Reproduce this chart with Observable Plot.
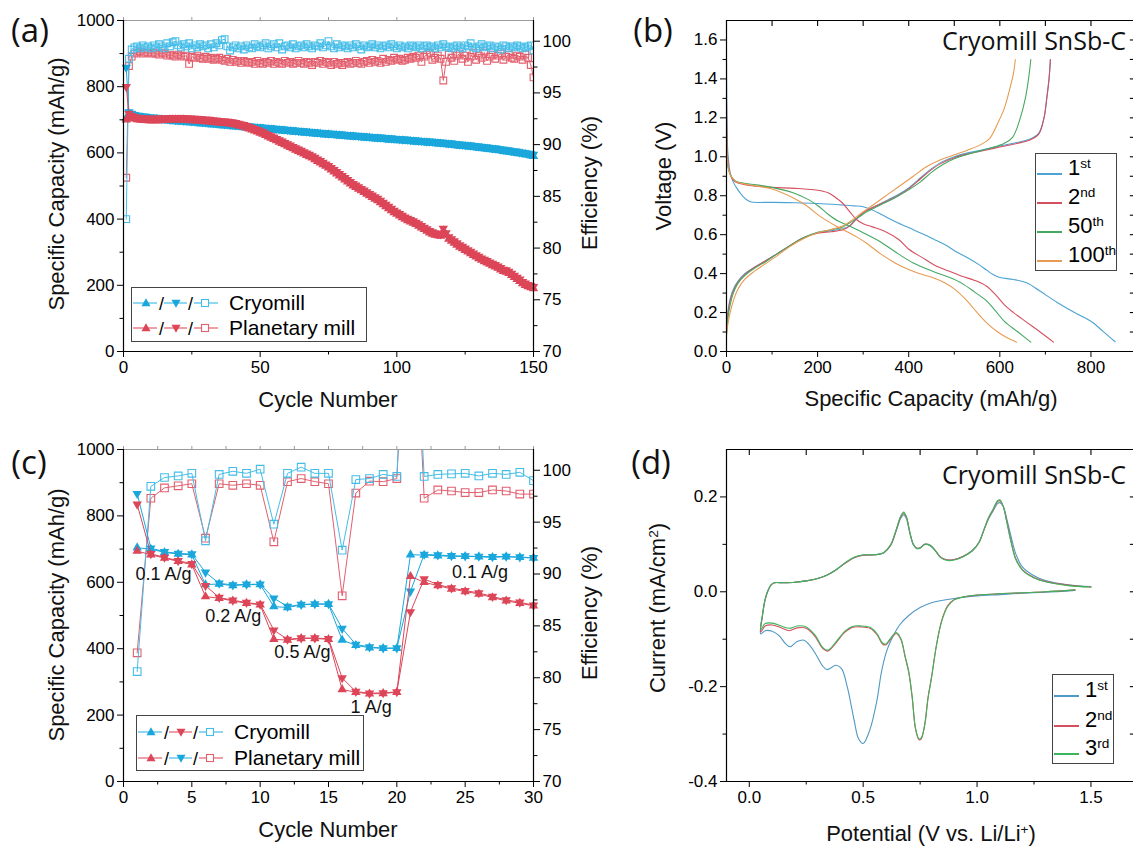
<!DOCTYPE html>
<html><head><meta charset="utf-8">
<script src="https://cdn.jsdelivr.net/npm/d3@7"></script>
<script src="https://cdn.jsdelivr.net/npm/@observablehq/plot@0.6"></script>
<style>
html,body{margin:0;padding:0;background:#fff;}
body{width:1133px;height:848px;overflow:hidden;position:relative;font-family:"Liberation Sans",Arial,sans-serif;}
.panel{position:absolute;}
.panel svg{max-width:none !important;overflow:visible;}
.t{position:absolute;white-space:nowrap;color:#111;line-height:1;}
.lg{position:absolute;border:1.5px solid #444;background:#fff;box-sizing:border-box;}
.lg .row{position:absolute;white-space:nowrap;line-height:1;color:#000;}
sup{font-size:0.62em;vertical-align:0;position:relative;top:-0.55em;}
</style></head><body>
<div id="pa" class="panel" style="left:0;top:0;width:600px;height:400px"></div>
<div id="pb" class="panel" style="left:600px;top:0;width:560px;height:400px"></div>
<div id="pc" class="panel" style="left:0;top:430px;width:600px;height:400px"></div>
<div id="pd" class="panel" style="left:600px;top:430px;width:560px;height:400px"></div>
<script>
// ---------------- DATA ----------------
// (a) long cycling, 150 cycles
const cyclesA = d3.range(1, 151);
const cryoChargeA = [
705,718,713,710,709,707,706,704,704,702,
702,701,700,700,698,698,697,697,695,695,
694,694,693,692,692,691,690,689,689,688,
687,686,686,685,684,683,683,682,681,680,
680,679,678,677,677,676,675,674,674,673,
672,671,671,670,669,668,668,667,666,665,
665,664,663,662,662,661,660,660,659,658,
657,657,656,655,655,654,653,653,652,651,
651,650,649,649,648,647,647,646,645,645,
644,643,643,642,641,641,640,639,639,638,
637,637,636,635,635,634,633,633,632,631,
631,630,629,629,628,627,626,626,625,624,
623,622,621,620,620,619,618,617,616,615,
614,613,612,611,610,609,608,607,605,604,
603,602,600,599,598,597,595,594,592,590];
const cryoDischargeA = [
858,724,719,715,713,712,711,710,708,707,
708,706,705,704,704,703,701,702,700,699,
699,698,698,697,696,696,695,694,693,693,
692,691,690,690,689,688,687,687,686,685,
684,684,683,682,681,681,680,679,678,678,
677,676,675,675,674,673,672,672,671,670,
669,669,668,667,666,666,665,664,664,663,
662,661,661,660,659,659,658,657,657,656,
655,655,654,653,653,652,651,651,650,649,
649,648,647,647,646,645,645,644,643,643,
642,641,641,640,639,639,638,637,637,636,
635,635,634,633,633,632,631,630,630,629,
628,627,626,625,624,624,623,622,621,620,
619,618,617,616,615,614,613,611,610,609,
608,606,605,604,602,601,600,598,597,595];
const cryoEffA = [
82.8,98.3,99.2,99.4,99.5,99.3,99.6,99.4,99.5,99.3,
99.6,99.4,99.7,99.5,99.3,99.8,99.5,99.9,100.0,99.6,
99.4,99.7,99.5,99.8,99.3,99.6,99.4,99.7,99.5,99.6,
99.3,99.7,99.4,99.8,99.6,100.1,100.2,99.5,99.1,99.4,
99.6,99.3,99.5,99.2,99.6,99.4,99.3,99.7,99.5,99.4,
99.6,99.8,99.3,99.5,99.7,99.4,99.8,99.2,99.5,99.6,
99.4,99.7,99.3,99.5,99.6,99.4,99.7,99.5,99.3,99.6,
99.5,99.8,99.4,99.6,100.0,99.5,99.3,99.7,99.4,99.6,
99.5,99.3,99.6,99.4,99.7,99.5,99.2,99.6,99.4,99.5,
99.7,99.4,99.6,99.3,99.5,99.6,99.4,99.7,99.5,99.3,
99.6,99.4,99.5,99.3,99.6,99.5,99.4,99.6,99.3,99.5,
99.6,99.4,99.5,99.3,99.6,99.4,99.7,99.5,99.4,99.3,
99.5,99.6,99.4,99.3,99.6,99.5,99.8,99.4,99.3,99.5,
99.7,99.4,99.5,99.6,99.3,99.5,99.4,99.2,99.6,99.5,
99.3,99.5,99.4,99.6,99.5,99.3,99.4,99.5,99.6,99.1];
const planChargeA = [
700,712,706,703,701,700,699,699,698,698,
698,698,698,699,699,699,700,700,700,700,
700,700,699,699,698,698,697,697,696,695,
695,694,693,692,691,690,690,689,688,687,
685,683,681,679,676,673,670,667,664,660,
657,653,649,645,641,637,633,629,625,621,
617,613,609,605,601,597,593,589,585,580,
575,570,565,560,555,549,543,537,531,525,
519,513,507,501,496,491,486,481,476,471,
466,461,456,450,444,438,432,426,420,415,
410,405,400,396,392,388,384,379,374,369,
364,359,355,352,350,349,365,352,340,334,
328,322,316,311,306,301,296,291,286,281,
276,272,268,264,260,256,252,247,242,240,
236,230,224,218,212,205,200,196,193,190];
const planDischargeA = [
800,718,712,709,707,706,705,705,704,704,
704,704,704,705,705,705,706,706,706,706,
706,706,705,705,704,704,703,703,702,701,
701,700,699,698,697,696,696,695,694,693,
691,689,687,685,682,679,676,673,670,666,
663,659,655,651,647,643,639,635,631,627,
623,619,615,611,607,603,599,595,591,586,
581,576,571,566,561,555,549,543,537,531,
525,519,513,507,502,497,492,487,482,477,
472,467,462,456,450,444,438,432,426,421,
416,411,406,402,398,394,390,385,380,375,
370,365,361,358,356,355,372,358,346,340,
334,328,322,317,312,307,302,297,292,287,
282,278,274,270,266,262,258,253,248,246,
242,236,230,224,218,211,206,202,199,196];
const planEffA = [
86.8,97.6,98.5,98.8,98.9,99.0,98.8,98.9,98.9,98.8,
98.9,98.8,98.7,98.9,98.8,98.6,98.7,98.6,98.5,98.7,
98.6,98.5,98.6,97.8,98.5,98.4,98.6,98.4,98.3,98.5,
98.3,98.4,98.2,98.3,98.4,98.2,98.1,98.3,98.0,98.2,
98.0,98.1,97.9,98.1,98.0,97.9,98.0,97.8,98.1,97.9,
97.8,98.0,97.9,98.1,97.8,98.0,97.9,97.8,98.1,97.9,
98.0,97.8,97.9,98.1,97.9,97.8,98.0,97.9,97.7,98.0,
97.9,98.1,97.8,98.0,97.9,97.7,98.0,97.8,97.9,97.7,
97.9,98.0,97.8,97.9,98.1,97.9,97.8,98.0,98.1,97.9,
98.2,98.0,98.1,97.9,98.3,98.0,98.2,98.1,98.4,98.2,
98.3,98.1,98.2,98.4,98.3,98.5,98.4,98.6,98.0,98.5,
98.7,98.9,98.2,98.4,98.6,98.3,96.2,98.0,98.7,98.4,
98.1,98.6,98.8,98.3,98.6,98.0,98.5,98.9,98.2,98.6,
98.4,98.9,98.1,98.5,98.7,98.3,98.6,98.8,98.2,98.5,
98.7,98.4,98.3,98.6,98.5,98.2,98.7,98.4,97.7,96.5];

// (c) rate capability, 30 cycles
const cyclesC = d3.range(1, 31);
const cryoChargeC = [704,700,690,685,683,593,595,590,593,593,527,524,532,534,534,426,410,403,401,401,683,682,680,678,678,677,675,677,675,673];
const cryoDischargeC = [867,703,692,687,685,630,597,592,594,594,552,527,533,535,535,461,413,405,402,402,573,684,682,680,679,678,677,678,676,674];
const cryoEffC = [80.6,98.45,99.3,99.45,99.7,93.2,99.6,99.9,99.7,100.1,94.8,99.7,100.3,99.7,99.7,92.3,99.1,99.2,99.6,99.4,125,99.4,99.6,99.65,99.7,99.45,99.7,99.6,99.8,99.0];
const planChargeC = [694,683,673,663,653,557,552,544,537,532,428,426,431,431,428,277,269,264,265,269,618,600,590,580,572,565,554,544,537,529];
const planDischargeC = [835,686,675,665,656,590,554,546,539,534,456,428,432,432,430,312,271,266,267,270,511,610,593,583,575,568,557,547,540,531];
const planEffC = [82.4,97.3,98.3,98.5,98.7,93.45,98.7,98.55,98.7,98.55,93.1,98.9,99.2,98.9,98.7,87.9,97.8,98.95,98.9,99.2,125,97.3,98.1,98.0,97.85,97.85,98.1,98.0,97.7,97.7];
const rateLabels = ["0.1 A/g", "0.2 A/g", "0.5 A/g", "1 A/g", "0.1 A/g"];
const rateLabelX = [2.92, 8.03, 13.09, 18.12, 26.08];
const rateLabelY = [625, 497, 388, 224, 630];

// (b) voltage profiles [capacity mAh/g, voltage V]
const dis1 = [[0,1.5],[0.5,1.3],[1,1.18],[3,1.02],[8,0.92],[15,0.87],[25,0.83],[35,0.8],[45,0.778],[55,0.768],[100,0.766],[150,0.764],[200,0.76],[250,0.753],[280,0.748],[300,0.743],[320,0.727],[339,0.705],[370,0.668],[401,0.635],[430,0.605],[455,0.577],[480,0.548],[502,0.515],[532,0.478],[555,0.445],[571,0.418],[585,0.395],[600,0.38],[630,0.37],[660,0.352],[687,0.312],[726,0.252],[764,0.2],[800,0.155],[826,0.105],[853,0.05]];
const chg1 = [[0,0.12],[3,0.2],[8,0.27],[15,0.32],[25,0.36],[40,0.4],[60,0.43],[85,0.465],[110,0.5],[140,0.545],[170,0.585],[200,0.61],[230,0.62],[255,0.63],[270,0.645],[285,0.68],[305,0.72],[330,0.75],[355,0.78],[380,0.81],[400,0.84],[420,0.88],[445,0.93],[470,0.97],[500,1.0],[530,1.02],[560,1.035],[600,1.055],[640,1.075],[665,1.09],[685,1.12],[697,1.2],[703,1.3],[708,1.4],[711,1.5]];
const dis2 = [[0,1.3],[0.5,1.2],[1,1.1],[3,0.98],[8,0.91],[15,0.88],[25,0.865],[50,0.853],[100,0.843],[150,0.838],[200,0.828],[223,0.815],[240,0.79],[254,0.764],[270,0.72],[285,0.678],[300,0.656],[320,0.64],[347,0.618],[378,0.575],[401,0.524],[430,0.482],[455,0.446],[486,0.415],[517,0.386],[545,0.365],[571,0.335],[594,0.283],[610,0.24],[630,0.2],[656,0.155],[687,0.103],[718,0.048]];
const chg2 = [[0,0.1],[3,0.19],[8,0.26],[15,0.31],[25,0.355],[40,0.395],[60,0.43],[85,0.465],[110,0.5],[140,0.545],[170,0.585],[200,0.607],[230,0.615],[255,0.625],[268,0.64],[285,0.68],[305,0.72],[330,0.75],[355,0.775],[380,0.805],[400,0.835],[420,0.875],[445,0.925],[470,0.965],[500,0.995],[530,1.015],[560,1.03],[600,1.05],[640,1.07],[665,1.085],[685,1.115],[697,1.2],[703,1.3],[708,1.4],[711,1.5]];
const dis50 = [[0,1.1],[0.5,1.05],[1,1.0],[3,0.95],[8,0.91],[15,0.885],[25,0.87],[60,0.858],[100,0.843],[146,0.815],[180,0.78],[200,0.75],[223,0.705],[245,0.67],[270,0.645],[300,0.61],[340,0.56],[378,0.5],[410,0.455],[455,0.41],[490,0.38],[517,0.35],[545,0.305],[571,0.26],[590,0.21],[610,0.155],[640,0.1],[668,0.048]];
const chg50 = [[0,0.09],[3,0.17],[8,0.24],[15,0.3],[25,0.35],[40,0.39],[60,0.425],[85,0.46],[110,0.5],[140,0.545],[170,0.585],[200,0.612],[230,0.625],[255,0.64],[270,0.66],[290,0.69],[310,0.72],[340,0.755],[370,0.79],[400,0.83],[425,0.87],[450,0.92],[475,0.96],[500,0.99],[540,1.02],[580,1.045],[610,1.07],[628,1.1],[645,1.2],[656,1.3],[663,1.4],[668,1.5]];
const dis100 = [[0,1.15],[0.5,1.08],[1,1.02],[3,0.96],[8,0.91],[15,0.885],[25,0.868],[60,0.852],[100,0.835],[146,0.79],[175,0.75],[208,0.69],[240,0.645],[285,0.59],[310,0.552],[339,0.5],[370,0.455],[401,0.42],[430,0.395],[455,0.378],[480,0.352],[502,0.318],[525,0.268],[548,0.206],[570,0.15],[594,0.103],[615,0.072],[637,0.048]];
const chg100 = [[0,0.08],[3,0.14],[8,0.2],[15,0.26],[25,0.32],[40,0.37],[60,0.41],[85,0.45],[110,0.49],[140,0.54],[170,0.58],[200,0.61],[230,0.627],[255,0.645],[270,0.665],[290,0.7],[320,0.75],[350,0.8],[380,0.85],[410,0.9],[440,0.95],[470,0.985],[500,1.01],[530,1.035],[560,1.065],[578,1.095],[595,1.17],[610,1.25],[622,1.35],[630,1.43],[634,1.5]];
const profileNames = ["1st", "2nd", "50th", "100th"];

// (d) cyclic voltammetry [potential V, current mA/cm2]
const cv1 = [[1.43,0.003],[1.3,-0.001],[1.2,-0.003],[1.1,-0.006],[1.0,-0.009],[0.9,-0.014],[0.85,-0.018],[0.8,-0.023],[0.75,-0.033],[0.7,-0.05],[0.66,-0.07],[0.62,-0.105],[0.6,-0.13],[0.58,-0.17],[0.56,-0.23],[0.53,-0.29],[0.5,-0.32],[0.48,-0.31],[0.46,-0.27],[0.43,-0.2],[0.405,-0.162],[0.38,-0.155],[0.36,-0.16],[0.34,-0.164],[0.32,-0.155],[0.29,-0.13],[0.26,-0.11],[0.24,-0.102],[0.21,-0.105],[0.18,-0.116],[0.16,-0.11],[0.13,-0.092],[0.1,-0.083],[0.07,-0.082],[0.05,-0.089],
[0.058,-0.05],[0.068,-0.02],[0.08,0.0],[0.095,0.014],[0.11,0.019],[0.15,0.019],[0.2,0.02],[0.25,0.023],[0.3,0.028],[0.34,0.035],[0.38,0.046],[0.42,0.06],[0.46,0.072],[0.5,0.077],[0.55,0.078],[0.59,0.082],[0.62,0.097],[0.645,0.128],[0.665,0.155],[0.678,0.162],[0.69,0.154],[0.705,0.123],[0.72,0.1],[0.735,0.092],[0.75,0.093],[0.77,0.1],[0.785,0.099],[0.8,0.095],[0.82,0.085],[0.84,0.073],[0.87,0.067],[0.9,0.068],[0.94,0.075],[0.98,0.087],[1.01,0.105],[1.03,0.13],[1.05,0.153],[1.07,0.17],[1.09,0.186],[1.1,0.188],[1.115,0.18],[1.13,0.155],[1.15,0.115],[1.17,0.08],[1.2,0.052],[1.25,0.034],[1.3,0.024],[1.4,0.015],[1.5,0.011]];
const cv2 = [[1.43,0.004],[1.3,0.0],[1.2,-0.002],[1.1,-0.004],[1.0,-0.007],[0.95,-0.01],[0.9,-0.016],[0.87,-0.03],[0.845,-0.06],[0.823,-0.109],[0.8,-0.18],[0.785,-0.222],[0.77,-0.28],[0.755,-0.31],[0.745,-0.312],[0.73,-0.29],[0.715,-0.222],[0.7,-0.17],[0.684,-0.137],[0.665,-0.1],[0.645,-0.088],[0.62,-0.1],[0.6,-0.112],[0.585,-0.11],[0.56,-0.09],[0.53,-0.077],[0.49,-0.074],[0.452,-0.075],[0.42,-0.085],[0.38,-0.108],[0.345,-0.125],[0.32,-0.118],[0.29,-0.095],[0.25,-0.077],[0.21,-0.076],[0.175,-0.082],[0.14,-0.076],[0.1,-0.07],[0.07,-0.072],[0.05,-0.085],
[0.058,-0.05],[0.068,-0.02],[0.08,0.0],[0.095,0.014],[0.11,0.019],[0.15,0.019],[0.2,0.02],[0.25,0.023],[0.3,0.028],[0.34,0.035],[0.38,0.046],[0.42,0.06],[0.46,0.072],[0.5,0.077],[0.55,0.078],[0.59,0.082],[0.62,0.098],[0.645,0.13],[0.665,0.158],[0.678,0.165],[0.69,0.157],[0.705,0.125],[0.72,0.1],[0.735,0.092],[0.75,0.093],[0.77,0.1],[0.785,0.1],[0.8,0.096],[0.82,0.085],[0.84,0.073],[0.87,0.067],[0.9,0.068],[0.94,0.075],[0.98,0.087],[1.01,0.105],[1.03,0.13],[1.05,0.155],[1.07,0.172],[1.09,0.19],[1.1,0.192],[1.115,0.18],[1.13,0.15],[1.15,0.105],[1.17,0.07],[1.2,0.046],[1.25,0.03],[1.3,0.022],[1.4,0.014],[1.5,0.01]];
const cv3 = [[1.43,0.004],[1.3,0.0],[1.2,-0.002],[1.1,-0.004],[1.0,-0.007],[0.95,-0.01],[0.9,-0.017],[0.87,-0.032],[0.845,-0.062],[0.823,-0.11],[0.8,-0.182],[0.785,-0.224],[0.77,-0.282],[0.755,-0.308],[0.745,-0.31],[0.73,-0.288],[0.715,-0.22],[0.7,-0.168],[0.684,-0.135],[0.665,-0.098],[0.645,-0.086],[0.62,-0.098],[0.6,-0.11],[0.585,-0.108],[0.56,-0.088],[0.53,-0.075],[0.49,-0.072],[0.452,-0.073],[0.42,-0.083],[0.38,-0.106],[0.345,-0.123],[0.32,-0.116],[0.29,-0.092],[0.25,-0.074],[0.21,-0.072],[0.175,-0.077],[0.14,-0.072],[0.1,-0.066],[0.07,-0.067],[0.05,-0.08],
[0.058,-0.048],[0.068,-0.019],[0.08,0.0],[0.095,0.014],[0.11,0.019],[0.15,0.019],[0.2,0.02],[0.25,0.023],[0.3,0.028],[0.34,0.035],[0.38,0.046],[0.42,0.061],[0.46,0.073],[0.5,0.078],[0.55,0.078],[0.59,0.083],[0.62,0.099],[0.645,0.131],[0.665,0.16],[0.678,0.168],[0.69,0.158],[0.705,0.126],[0.72,0.1],[0.735,0.091],[0.75,0.092],[0.77,0.1],[0.785,0.1],[0.8,0.096],[0.82,0.084],[0.84,0.072],[0.87,0.066],[0.9,0.067],[0.94,0.074],[0.98,0.087],[1.01,0.106],[1.03,0.131],[1.05,0.156],[1.07,0.174],[1.09,0.192],[1.1,0.194],[1.115,0.18],[1.13,0.148],[1.15,0.103],[1.17,0.068],[1.2,0.045],[1.25,0.029],[1.3,0.021],[1.4,0.013],[1.5,0.01]];
const cvNames = ["1st", "2nd", "3rd"];

// ---------------- STYLE ----------------
const BLUE = "#1aa7dc", BLUE_E = "#45bde8", RED = "#dc4658", RED_E = "#e35f6e";
const PROFILE_COLORS = ["#4ba3d3", "#d4505e", "#45a862", "#e79b52"];
const CV_COLORS = ["#4f98c4", "#d5505e", "#3cb55c"];
const ST = {fontFamily: '"Liberation Sans", Arial, sans-serif', fontSize: "17px", background: "transparent", color: "#000", overflow: "visible", maxWidth: "none"};
const blank = () => "";
const triDown = {draw(ctx, size) { const y = Math.sqrt(size / (Math.sqrt(3) * 3)); ctx.moveTo(0, 2 * y); ctx.lineTo(-Math.sqrt(3) * y, -y); ctx.lineTo(Math.sqrt(3) * y, -y); ctx.closePath(); }};
const effToCap = e => (e - 70) * 1000 / 32;
const capToEff = c => 70 + c * 32 / 1000;

function cyclePanel(o) {
  const rows = o.cycles.map((c, i) => ({c, cc: o.cryoC[i], cd: o.cryoD[i], ce: effToCap(o.cryoE[i]), pc: o.planC[i], pd: o.planD[i], pe: effToCap(o.planE[i])}));
  const seriesMarks = (kc, kd, col) => [
    Plot.line(rows, {x: "c", y: kc, stroke: col, strokeWidth: 1}),
    Plot.line(rows, {x: "c", y: kd, stroke: col, strokeWidth: 1}),
    Plot.dot(rows, {x: "c", y: kc, symbol: "triangle", r: o.triR, fill: col}),
    Plot.dot(rows, {x: "c", y: kd, symbol: triDown, r: o.triR, fill: col})
  ];
  const effMarks = (k, col) => [
    Plot.line(rows, {x: "c", y: k, stroke: col, strokeWidth: 1, clip: true}),
    Plot.dot(rows, {x: "c", y: k, symbol: "square", r: o.sqR, stroke: col, fill: "none", strokeWidth: 1.1, clip: true})
  ];
  return Plot.plot({
    width: 600, height: 400, marginLeft: 123, marginRight: 67, marginTop: o.marginTop, marginBottom: 49,
    x: {domain: [0, o.xMax]}, y: {domain: [0, 1000]},
    style: ST,
    marks: [
      ...effMarks("pe", RED_E),
      ...effMarks("ce", BLUE_E),
      ...seriesMarks("cc", "cd", BLUE),
      ...seriesMarks("pc", "pd", RED),
      ...(o.extra || []),
      Plot.ruleY([1000], {stroke: "#9a9a9a", strokeWidth: 1.2}),
      Plot.axisX(o.xTop, {anchor: "top", tickSize: 4, tickFormat: blank, label: null, stroke: "#9a9a9a"}),
      Plot.ruleX([0], {strokeWidth: 1.2}), Plot.ruleX([o.xMax], {strokeWidth: 1.2}), Plot.ruleY([0], {strokeWidth: 1.2}),
      Plot.axisX(o.xMajor, {tickSize: 6, label: null, tickFormat: d => String(d)}),
      Plot.axisX(o.xMinor, {tickSize: 3.5, tickFormat: blank, label: null}),
      Plot.axisY(d3.range(0, 1001, 200), {tickSize: 6, label: null, tickFormat: d => String(d)}),
      Plot.axisY(d3.range(100, 1000, 200), {tickSize: 3.5, tickFormat: blank, label: null}),
      Plot.axisY([70, 75, 80, 85, 90, 95, 100].map(effToCap), {anchor: "right", tickSize: 6, label: null, tickFormat: d => String(Math.round(capToEff(d)))}),
      Plot.axisY([72.5, 77.5, 82.5, 87.5, 92.5, 97.5].map(effToCap), {anchor: "right", tickSize: 3.5, tickFormat: blank, label: null})
    ]
  });
}

document.getElementById("pa").append(cyclePanel({
  cycles: cyclesA, cryoC: cryoChargeA, cryoD: cryoDischargeA, cryoE: cryoEffA,
  planC: planChargeA, planD: planDischargeA, planE: planEffA,
  xMax: 150, xMajor: [0, 50, 100, 150], xMinor: [25, 75, 125], xTop: d3.range(0, 151, 25),
  triR: 3.5, sqR: 3.8, marginTop: 20
}));

document.getElementById("pc").append(cyclePanel({
  cycles: cyclesC, cryoC: cryoChargeC, cryoD: cryoDischargeC, cryoE: cryoEffC,
  planC: planChargeC, planD: planDischargeC, planE: planEffC,
  xMax: 30, xMajor: [0, 5, 10, 15, 20, 25, 30], xMinor: [2.5, 7.5, 12.5, 17.5, 22.5, 27.5], xTop: d3.range(0, 30.1, 2.5),
  triR: 3.5, sqR: 4.3, marginTop: 19,
  extra: [Plot.text(rateLabels, {x: rateLabelX, y: rateLabelY, text: d => d, fontSize: 18, fill: "#111"})]
}));

function curvePanel(o) {
  const [x0, x1] = o.xDomain, [y0, y1] = o.yDomain;
  return Plot.plot({
    width: 560, height: 400, marginLeft: 126, marginRight: 24, marginTop: o.marginTop, marginBottom: 49,
    x: {domain: o.xDomain}, y: {domain: o.yDomain},
    style: ST,
    marks: [
      ...o.curves.map((c, i) => Plot.line(c, {x: d => d[0], y: d => d[1], stroke: o.colors[o.colorIdx[i]], strokeWidth: 1.1, curve: "catmull-rom"})),
      Plot.ruleX([x0], {strokeWidth: 1.2}), Plot.ruleX([x1], {strokeWidth: 1.2}),
      Plot.ruleY([y0], {strokeWidth: 1.2}), Plot.ruleY([y1], {strokeWidth: 1.2}),
      Plot.axisX(o.xMajor, {tickSize: 6, label: null, tickFormat: o.xFmt}),
      Plot.axisX(o.xMinor, {tickSize: 3.5, tickFormat: blank, label: null}),
      Plot.axisY(o.yMajor, {tickSize: 6, label: null, tickFormat: d => d.toFixed(1)}),
      Plot.axisY(o.yMinor, {tickSize: 3.5, tickFormat: blank, label: null}),
      Plot.ruleX(o.topTicks, {x: d => d, y1: y1, y2: y1 - (y1 - y0) * 0.018, strokeWidth: 1.1}),
      Plot.ruleY(o.rightTicks, {y: d => d, x1: x1 - (x1 - x0) * 0.015, x2: x1, strokeWidth: 1.1})
    ]
  });
}

document.getElementById("pb").append(curvePanel({
  xDomain: [0, 900], yDomain: [0, 1.7], marginTop: 20,
  curves: [dis1, chg1, dis2, chg2, dis50, chg50, dis100, chg100], colorIdx: [0, 0, 1, 1, 2, 2, 3, 3], colors: PROFILE_COLORS,
  xMajor: [0, 200, 400, 600, 800], xMinor: [100, 300, 500, 700], xFmt: d => String(d),
  yMajor: [0, 0.2, 0.4, 0.6, 0.8, 1.0, 1.2, 1.4, 1.6], yMinor: [0.1, 0.3, 0.5, 0.7, 0.9, 1.1, 1.3, 1.5],
  topTicks: [100, 200, 300, 400, 500, 600, 700, 800],
  rightTicks: [0.1, 0.2, 0.3, 0.4, 0.5, 0.6, 0.7, 0.8, 0.9, 1.0, 1.1, 1.2, 1.3, 1.4, 1.5, 1.6]
}));

document.getElementById("pd").append(curvePanel({
  xDomain: [-0.1, 1.7], yDomain: [-0.4, 0.3], marginTop: 19,
  curves: [cv1, cv2, cv3], colorIdx: [0, 1, 2], colors: CV_COLORS,
  xMajor: [0, 0.5, 1.0, 1.5], xMinor: [0.25, 0.75, 1.25], xFmt: d => d.toFixed(1),
  yMajor: [-0.4, -0.2, 0, 0.2], yMinor: [-0.3, -0.1, 0.1],
  topTicks: [0, 0.25, 0.5, 0.75, 1.0, 1.25, 1.5],
  rightTicks: [-0.3, -0.2, -0.1, 0, 0.1, 0.2]
}));

// ---------------- TEXT OVERLAYS ----------------
function put(html, x, y, size, opt = {}) {
  const d = document.createElement("div");
  d.className = "t";
  d.innerHTML = html;
  d.style.left = x + "px"; d.style.top = y + "px"; d.style.fontSize = size + "px";
  if (opt.family) d.style.fontFamily = opt.family;
  const tx = opt.right ? "-100%" : "-50%";
  d.style.transform = `translate(${tx},-50%)` + (opt.rotate ? " rotate(-90deg)" : "");
  document.body.append(d);
}
const SEG = '"Open Sans", "Noto Sans", sans-serif';
put("(a)", 30, 29, 33, {family: SEG});
put("(b)", 653, 29, 33, {family: SEG});
put("(c)", 29, 461, 33, {family: SEG});
put("(d)", 651, 461, 33, {family: SEG});
put("Specific Capacity (mAh/g)", 57, 184, 22, {rotate: true});
put("Efficiency (%)", 590, 183, 22, {rotate: true});
put("Cycle Number", 328, 400, 22);
put("Voltage (V)", 664, 176, 22, {rotate: true});
put("Specific Capacity (mAh/g)", 931, 399, 22);
put("Specific Capacity (mAh/g)", 57, 615, 22, {rotate: true});
put("Efficiency (%)", 590, 613, 22, {rotate: true});
put("Cycle Number", 328, 830, 22);
put("Current (mA/cm<sup>2</sup>)", 658, 608, 22, {rotate: true});
put("Potential (V vs. Li/Li<sup>+</sup>)", 931, 834, 22);
put("Cryomill SnSb-C", 1126, 40, 25, {family: SEG, right: true});
put("Cryomill SnSb-C", 1126, 474, 25, {family: SEG, right: true});

// legend helpers
function sampleSVG(cols) {
  // cols: [line1, up, line2, down, line3, square]
  const up = (cx, c) => `<polygon points="${cx},${10 - 4.8} ${cx - 4.5},${10 + 3.2} ${cx + 4.5},${10 + 3.2}" fill="${c}"/>`;
  const dn = (cx, c) => `<polygon points="${cx},${10 + 4.8} ${cx - 4.5},${10 - 3.2} ${cx + 4.5},${10 - 3.2}" fill="${c}"/>`;
  return `<svg width="90" height="20" style="position:absolute;left:0;top:0;overflow:visible">
    <line x1="0" x2="24" y1="10" y2="10" stroke="${cols[0]}" stroke-width="1.2"/>${up(13, cols[1])}
    <text x="26" y="17" font-size="18" font-family="Liberation Sans, Arial" fill="#000">/</text>
    <line x1="31" x2="54" y1="10" y2="10" stroke="${cols[2]}" stroke-width="1.2"/>${dn(43, cols[3])}
    <text x="55" y="17" font-size="18" font-family="Liberation Sans, Arial" fill="#000">/</text>
    <line x1="61" x2="85" y1="10" y2="10" stroke="${cols[4]}" stroke-width="1.2"/>
    <rect x="68.5" y="6.5" width="7" height="7" fill="#fff" stroke="${cols[5]}" stroke-width="1.1"/>
  </svg>`;
}
function millLegend(left, top, w, h, rows) {
  const box = document.createElement("div");
  box.className = "lg";
  Object.assign(box.style, {left: left + "px", top: top + "px", width: w + "px", height: h + "px"});
  rows.forEach(r => {
    const s = document.createElement("div");
    s.className = "row";
    Object.assign(s.style, {left: "1px", top: (r.y - 10) + "px", width: "90px", height: "20px"});
    s.innerHTML = sampleSVG(r.cols);
    box.append(s);
    const t = document.createElement("div");
    t.className = "row";
    Object.assign(t.style, {left: "97px", top: (r.y - 11) + "px", fontSize: "21px"});
    t.textContent = r.label;
    box.append(t);
  });
  document.body.append(box);
}
const millNames = ["Cryomill", "Planetary mill"];
millLegend(131, 287, 236, 55, [
  {y: 15, label: millNames[0], cols: [BLUE_E, BLUE, BLUE_E, BLUE, BLUE_E, BLUE_E]},
  {y: 40, label: millNames[1], cols: [RED_E, RED, RED_E, RED, RED_E, RED_E]}
]);
millLegend(136, 715, 228, 56, [
  {y: 16, label: millNames[0], cols: [BLUE_E, BLUE, RED_E, RED, BLUE_E, BLUE_E]},
  {y: 42, label: millNames[1], cols: [RED_E, RED, BLUE_E, BLUE, RED_E, RED_E]}
]);

function lineLegend(left, top, w, h, names, colors, rowYs) {
  const box = document.createElement("div");
  box.className = "lg";
  Object.assign(box.style, {left: left + "px", top: top + "px", width: w + "px", height: h + "px"});
  names.forEach((n, i) => {
    const s = document.createElement("div");
    s.className = "row";
    Object.assign(s.style, {left: "1px", top: (rowYs[i] - 2) + "px"});
    s.innerHTML = `<svg width="26" height="4" style="display:block"><line x1="0" x2="25" y1="2" y2="2" stroke="${colors[i]}" stroke-width="2"/></svg>`;
    box.append(s);
    const t = document.createElement("div");
    t.className = "row";
    Object.assign(t.style, {left: "32px", top: (rowYs[i] - 17) + "px", fontSize: "22px"});
    const m = n.match(/^(\d+)(\D+)$/);
    t.innerHTML = `${m[1]}<sup>${m[2]}</sup>`;
    box.append(t);
  });
  document.body.append(box);
}
lineLegend(1035, 153, 82, 118, profileNames, PROFILE_COLORS, [20, 49, 78, 107]);
lineLegend(1052, 674, 62, 90, cvNames, CV_COLORS, [21, 51, 79]);
</script>
</body></html>
